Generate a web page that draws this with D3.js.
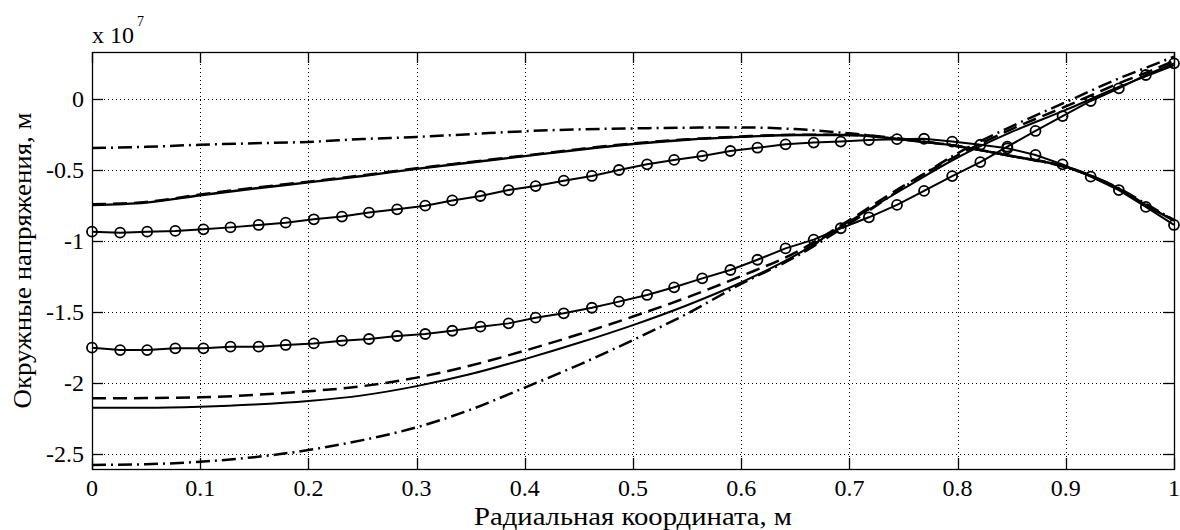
<!DOCTYPE html>
<html><head><meta charset="utf-8">
<script src="https://cdn.jsdelivr.net/npm/d3@7"></script>
<style>
body{margin:0;background:#fff}
</style>
</head><body><svg id="c" width="1180" height="530"></svg>
<script>
// ---- data ----
const xTicks=[0,0.1,0.2,0.3,0.4,0.5,0.6,0.7,0.8,0.9,1];
const xTickLabels=["0","0.1","0.2","0.3","0.4","0.5","0.6","0.7","0.8","0.9","1"];
const yTicks=[0,-0.5,-1,-1.5,-2,-2.5];
const yTickLabels=["0","-0.5","-1","-1.5","-2","-2.5"];
const xLabel="Радиальная координата, м";
const yLabel="Окружные напряжения, м";

const xLine=[0,0.05,0.1,0.15,0.2,0.25,0.3,0.35,0.4,0.45,0.5,0.55,0.6,0.65,0.7,0.75,0.8,0.85,0.9,0.95,0.975,1];
// upper group (x 1e7)
const upperSolid=[-0.745,-0.728,-0.676,-0.628,-0.585,-0.54,-0.49,-0.445,-0.40,-0.355,-0.315,-0.285,-0.265,-0.252,-0.252,-0.285,-0.33,-0.40,-0.475,-0.635,-0.75,-0.855];
const upperDashed=[-0.74,-0.723,-0.671,-0.623,-0.58,-0.535,-0.486,-0.441,-0.396,-0.351,-0.311,-0.282,-0.262,-0.25,-0.251,-0.284,-0.33,-0.40,-0.475,-0.635,-0.75,-0.85];
const upperDashDot=[-0.343,-0.335,-0.32,-0.31,-0.30,-0.28,-0.265,-0.245,-0.225,-0.212,-0.205,-0.20,-0.198,-0.21,-0.24,-0.28,-0.33,-0.40,-0.48,-0.63,-0.74,-0.85];
// lower group
const lowerSolid=[-2.172,-2.172,-2.165,-2.15,-2.125,-2.085,-2.02,-1.935,-1.83,-1.715,-1.59,-1.45,-1.29,-1.10,-0.86,-0.63,-0.41,-0.23,-0.075,0.09,0.165,0.24];
const lowerDashed=[-2.106,-2.104,-2.099,-2.082,-2.056,-2.02,-1.96,-1.875,-1.77,-1.655,-1.53,-1.395,-1.245,-1.08,-0.85,-0.61,-0.395,-0.21,-0.05,0.115,0.19,0.27];
const lowerDashDot=[-2.575,-2.57,-2.552,-2.52,-2.47,-2.40,-2.31,-2.185,-2.03,-1.87,-1.695,-1.51,-1.30,-1.11,-0.875,-0.62,-0.38,-0.19,-0.02,0.15,0.225,0.30];

const xMarker=[0,0.026,0.051,0.077,0.103,0.128,0.154,0.179,0.205,0.231,0.256,0.282,0.308,0.333,0.359,0.385,0.410,0.436,0.462,0.487,0.513,0.538,0.564,0.590,0.615,0.641,0.667,0.692,0.718,0.744,0.769,0.795,0.821,0.846,0.872,0.897,0.923,0.949,0.974,1];
const upperCircle=[-0.932,-0.939,-0.932,-0.927,-0.916,-0.902,-0.885,-0.869,-0.845,-0.826,-0.798,-0.775,-0.749,-0.712,-0.681,-0.639,-0.611,-0.573,-0.540,-0.498,-0.458,-0.427,-0.399,-0.364,-0.341,-0.317,-0.305,-0.298,-0.287,-0.281,-0.278,-0.298,-0.32,-0.345,-0.392,-0.458,-0.545,-0.639,-0.758,-0.885];
const lowerCircle=[-1.749,-1.766,-1.766,-1.754,-1.754,-1.742,-1.742,-1.730,-1.719,-1.700,-1.688,-1.667,-1.653,-1.630,-1.601,-1.578,-1.538,-1.507,-1.468,-1.425,-1.378,-1.324,-1.261,-1.202,-1.130,-1.050,-0.988,-0.908,-0.831,-0.744,-0.645,-0.541,-0.442,-0.334,-0.223,-0.118,-0.012,0.077,0.171,0.253];

// ---- layout ----
const FONT="'Liberation Serif','Times New Roman','DejaVu Serif',serif";
const L=92,R=1174,T=52,B=469;
const svg=d3.select("#c");
const x=d3.scaleLinear().domain([0,1]).range([L,R]);
const y=d3.scaleLinear().domain([-2.6035,0.333]).range([B,T]);

// grid
const g=svg.append("g");
g.selectAll(".gx").data(xTicks.filter(t=>t>0&&t<1)).enter().append("line")
 .attr("x1",d=>Math.round(x(d))+0.5).attr("x2",d=>Math.round(x(d))+0.5).attr("y1",T).attr("y2",B)
 .attr("stroke","#000").attr("stroke-width",1).attr("stroke-dasharray","1,3");
g.selectAll(".gy").data(yTicks).enter().append("line")
 .attr("y1",d=>Math.round(y(d))+0.5).attr("y2",d=>Math.round(y(d))+0.5).attr("x1",L).attr("x2",R)
 .attr("stroke","#000").attr("stroke-width",1).attr("stroke-dasharray","1,3");

// lines
function drawLine(xs,ys,dash,w,curve){
  const ln=d3.line().x((d,i)=>x(xs[i])).y(d=>y(d)).curve(curve||d3.curveMonotoneX);
  svg.append("path").datum(ys).attr("d",ln).attr("fill","none").attr("stroke","#000")
   .attr("stroke-width",w).attr("stroke-dasharray",dash||null);
}
drawLine(xLine,upperDashDot,"14,5,2,5",2.5);
drawLine(xLine,upperSolid,null,2.4);
drawLine(xLine,upperDashed,"14,7",2.5);
drawLine(xLine,lowerSolid,null,2);
drawLine(xLine,lowerDashed,"14,7",2.5);
drawLine(xLine,lowerDashDot,"14,5,2,5",2.5);
drawLine(xMarker,upperCircle,null,2,d3.curveLinear);
drawLine(xMarker,lowerCircle,null,2,d3.curveLinear);
[upperCircle,lowerCircle].forEach(s=>{
  svg.append("g").selectAll("circle").data(s).enter().append("circle")
   .attr("cx",(d,i)=>x(xMarker[i])).attr("cy",d=>y(d)).attr("r",5)
   .attr("fill","none").attr("stroke","#000").attr("stroke-width",1.8);
});

// box and ticks
const tl=11;
svg.append("rect").attr("x",L+0.5).attr("y",T+0.5).attr("width",R-L).attr("height",B-T)
 .attr("fill","none").attr("stroke","#000").attr("stroke-width",1.3);
const ax=svg.append("g");
xTicks.forEach(t=>{
  const px=Math.round(x(t))+0.5;
  ax.append("line").attr("x1",px).attr("x2",px).attr("y1",B).attr("y2",B-tl).attr("stroke","#000").attr("stroke-width",1.3);
  ax.append("line").attr("x1",px).attr("x2",px).attr("y1",T).attr("y2",T+tl).attr("stroke","#000").attr("stroke-width",1.3);
});
yTicks.forEach(t=>{
  const py=Math.round(y(t))+0.5;
  ax.append("line").attr("x1",L).attr("x2",L+tl).attr("y1",py).attr("y2",py).attr("stroke","#000").attr("stroke-width",1.3);
  ax.append("line").attr("x1",R).attr("x2",R-tl).attr("y1",py).attr("y2",py).attr("stroke","#000").attr("stroke-width",1.3);
});
function txt(sel,size){return sel.style("font-family",FONT).style("font-size",size+"px").style("fill","#000");}
// tick labels
txt(svg.append("g").selectAll("text").data(xTicks).enter().append("text")
 .attr("x",d=>x(d)).attr("y",496).attr("text-anchor","middle")
 .text((d,i)=>xTickLabels[i]),24);
txt(svg.append("g").selectAll("text").data(yTicks).enter().append("text")
 .attr("x",84).attr("y",d=>y(d)+8).attr("text-anchor","end")
 .text((d,i)=>yTickLabels[i]),24);
// exponent
const ex=txt(svg.append("text").attr("x",92).attr("y",43),24);
ex.append("tspan").text("x 10");
ex.append("tspan").style("font-size","14px").attr("dy",-17).attr("dx",3).text("7");
// axis titles
txt(svg.append("text").attr("x",(L+R)/2).attr("y",525).attr("text-anchor","middle")
 .attr("textLength",318).attr("lengthAdjust","spacingAndGlyphs").text(xLabel),25);
txt(svg.append("text").attr("transform",`translate(31,${(T+B)/2}) rotate(-90)`).attr("text-anchor","middle")
 .attr("textLength",296).attr("lengthAdjust","spacingAndGlyphs").text(yLabel),25);
</script></body></html>
